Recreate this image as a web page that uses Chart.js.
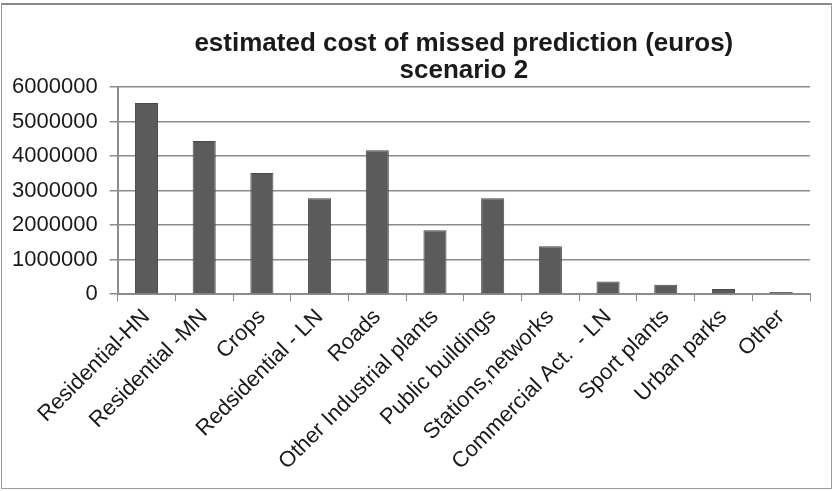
<!DOCTYPE html>
<html>
<head>
<meta charset="utf-8">
<script src="https://cdn.jsdelivr.net/npm/chart.js@4.4.0/dist/chart.umd.min.js"></script>
<style>
  html, body { margin: 0; padding: 0; background: #ffffff; }
  .wrap { position: relative; width: 833px; height: 491px; }
  .frame {
    position: absolute; left: 1px; top: 3px; width: 829px; height: 483px;
    border: 1px solid #9c9c9c; border-top: 2px solid #8a8a8a; pointer-events: none;
  }
  canvas { display: block; }
</style>
</head>
<body>
<div class="wrap">
  <canvas id="costChart" width="833" height="491"></canvas>
  <div class="frame"></div>
</div>
<script>
// Land-use categories (labels kept as printed, typo included)
const categories = [
  'Residential-HN', 'Residential -MN', 'Crops', 'Redsidential - LN', 'Roads',
  'Other Industrial plants', 'Public buildings', 'Stations,networks',
  'Commercial Act.  - LN', 'Sport plants', 'Urban parks', 'Other'
];

// Estimated cost of missed prediction, scenario 2 (euros)
const costValues = [
  5540000, 4440000, 3510000, 2780000, 4170000,
  1850000, 2780000, 1390000, 370000, 270000, 150000, 60000
];

const titleLines = ['estimated cost of missed prediction (euros)', 'scenario 2'];
const yTicks = [0, 1000000, 2000000, 3000000, 4000000, 5000000, 6000000];

const ctx = document.getElementById('costChart').getContext('2d');

new Chart(ctx, {
  type: 'bar',
  data: {
    labels: categories,
    datasets: [{
      label: 'cost',
      data: costValues,
      backgroundColor: '#5b5b5b',
      borderColor: '#4a4a4a',
      borderWidth: 1,
      barPercentage: 0.8,
      categoryPercentage: 0.5
    }]
  },
  options: {
    responsive: false,
    animation: false,
    layout: {
      padding: { top: 30, right: 23, bottom: 13, left: 0 }
    },
    plugins: {
      legend: { display: false },
      tooltip: { enabled: false },
      title: {
        display: true,
        text: titleLines,
        fullSize: false,
        color: '#1a1a1a',
        font: { family: 'Liberation Sans, Arial, sans-serif', size: 26, weight: 'bold', lineHeight: 1.04 },
        padding: { top: 0, bottom: 3 }
      }
    },
    scales: {
      x: {
        grid: {
          offset: true,
          drawOnChartArea: false,
          drawTicks: true,
          tickLength: 7,
          color: '#8c8c8c'
        },
        border: { color: '#8c8c8c', width: 2 },
        ticks: {
          autoSkip: false,
          minRotation: 45,
          maxRotation: 45,
          padding: 3,
          color: '#1a1a1a',
          font: { family: 'Liberation Sans, Arial, sans-serif', size: 22 }
        }
      },
      y: {
        min: 0,
        max: 6000000,
        afterBuildTicks: (axis) => { axis.ticks = yTicks.map(v => ({ value: v })); },
        grid: {
          color: '#8c8c8c',
          lineWidth: 1.5,
          tickLength: 8
        },
        border: { color: '#8c8c8c', width: 2 },
        ticks: {
          padding: 12,
          color: '#1a1a1a',
          font: { family: 'Liberation Sans, Arial, sans-serif', size: 22 },
          callback: (v) => String(v)
        }
      }
    }
  }
});
</script>
</body>
</html>
